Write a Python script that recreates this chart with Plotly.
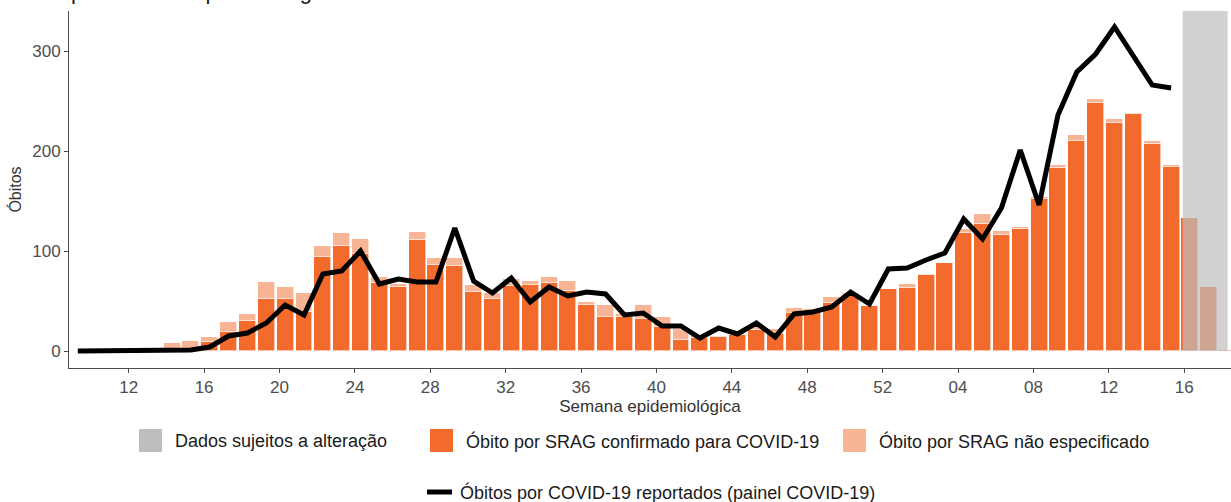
import plotly.graph_objects as go

# semanas epidemiológicas: 2020 (09-52) e 2021 (01-18)
semanas = list(range(9, 53)) + list(range(1, 19))

# óbitos por SRAG confirmados para COVID-19
confirmado = [0, 0, 0, 0, 0, 1, 2, 9, 19, 30, 52, 52, 39, 94, 105, 97, 68, 64, 111, 86,
              85, 59, 52, 65, 66, 68, 60, 46, 34, 34, 32, 24, 11, 13, 14, 16, 21, 17, 38, 40,
              48, 56, 45, 62,
              63, 76, 88, 118, 127, 116, 122, 152, 183, 210, 248, 228, 237, 207, 184, 133, 64, 1]

# óbitos por SRAG não especificado (parcela acima do confirmado)
nao_especificado = [0, 0, 0, 0, 1, 7, 8, 5, 10, 7, 17, 12, 19, 11, 13, 15, 6, 3, 8, 7,
                    8, 7, 6, 7, 4, 6, 10, 3, 12, 3, 14, 10, 11, 3, 1, 1, 4, 5, 5, 2,
                    6, 2, 0, 0,
                    4, 1, 0, 4, 10, 4, 2, 2, 3, 6, 4, 4, 1, 3, 2, 0, 0, 0]

# óbitos por COVID-19 reportados no painel (até a semana 15 de 2021)
painel = [0, 0, 0, 0, 1, 1, 1, 4, 15, 18, 28, 46, 36, 77, 80, 100, 67, 72, 69, 69,
          123, 70, 58, 73, 49, 64, 55, 59, 57, 36, 38, 25, 25, 13, 23, 17, 28, 14, 37, 39,
          44, 59, 47, 82,
          83, 91, 98, 132, 112, 143, 201, 146, 236, 279, 297, 324, 294, 266, 263]

n = len(semanas)
xpos = [i + 0.3 for i in range(n)]
tick_idx = list(range(3, n, 4))
tick_txt = [f"{semanas[i]:02d}" for i in tick_idx]

FONTE = "Liberation Sans, Arial, sans-serif"
LARANJA = "#F36B2C"
SALMAO = "#F8B596"
CINZA = "#BEBEBE"

W, H = 1231, 502
ML, MR, MT, MB = 69, 0, 11, 134
PW, PH = W - ML - MR, H - MT - MB


def px(x):
    return (x - ML) / PW


def py(y):
    return (H - MB - y) / PH


fig = go.Figure()
fig.add_trace(go.Bar(x=xpos, y=confirmado, width=0.9, marker=dict(color=LARANJA, line=dict(color="white", width=0.6)),
                     showlegend=False, hoverinfo="y"))
fig.add_trace(go.Bar(x=xpos, y=nao_especificado, width=0.9, marker=dict(color=SALMAO, line=dict(color="white", width=0.6)),
                     showlegend=False, hoverinfo="y"))
fig.add_trace(go.Scatter(x=xpos[:len(painel)], y=painel, mode="lines", line=dict(color="black", width=5),
                         showlegend=False, hoverinfo="y"))

# área de dados sujeitos a alteração
i16 = n - 3
fig.add_shape(type="rect", xref="x", yref="y", x0=xpos[i16] - 0.38, x1=xpos[n - 1], y0=0, y1=340,
              fillcolor=CINZA, opacity=0.7, line_width=0, layer="above")

# legenda manual
itens = [(139, CINZA, "Dados sujeitos a alteração"),
         (430, LARANJA, "Óbito por SRAG confirmado para COVID-19"),
         (843, SALMAO, "Óbito por SRAG não especificado")]
for x0, cor, txt in itens:
    fig.add_shape(type="rect", xref="paper", yref="paper", x0=px(x0), x1=px(x0 + 23), y0=py(452), y1=py(429),
                  fillcolor=cor, line_width=0)
    fig.add_annotation(xref="paper", yref="paper", x=px(x0 + 34), y=py(441), text=txt, showarrow=False,
                       xanchor="left", yanchor="middle", font=dict(size=18, color="#1a1a1a", family=FONTE))
fig.add_shape(type="line", xref="paper", yref="paper", x0=px(427), x1=px(452), y0=py(492), y1=py(492),
              line=dict(color="black", width=5))
fig.add_annotation(xref="paper", yref="paper", x=px(458), y=py(492),
                   text="Óbitos por COVID-19 reportados (painel COVID-19)", showarrow=False,
                   xanchor="left", yanchor="middle", font=dict(size=18, color="#1a1a1a", family=FONTE))

# título cortado no topo
fig.add_annotation(xref="paper", yref="paper", x=px(69), y=py(-8), text="por semana epidemiológica",
                   showarrow=False, xanchor="left", yanchor="middle",
                   font=dict(size=22, color="#1a1a1a", family=FONTE))

fig.update_layout(
    width=W, height=H,
    margin=dict(l=ML, r=MR, t=MT, b=MB),
    barmode="stack", bargap=0,
    plot_bgcolor="white", paper_bgcolor="white",
    font=dict(family=FONTE, color="#4D4D4D"),
    showlegend=False,
)
fig.update_xaxes(range=[-0.167, 61.48], tickmode="array", tickvals=tick_idx, ticktext=tick_txt,
                 showgrid=False, zeroline=False, showline=True, linecolor="#4D4D4D", linewidth=1,
                 ticks="outside", ticklen=4, tickcolor="#4D4D4D", tickfont=dict(size=17, color="#4D4D4D"),
                 automargin=False,
                 title=dict(text="Semana epidemiológica", font=dict(size=17, color="#333333"), standoff=2))
fig.update_yaxes(range=[-17, 340], tickvals=[0, 100, 200, 300], showgrid=False, zeroline=False,
                 showline=True, linecolor="#4D4D4D", linewidth=1, ticks="outside", ticklen=4,
                 tickcolor="#4D4D4D", tickfont=dict(size=17, color="#4D4D4D"), automargin=False,
                 title=dict(text="Óbitos", font=dict(size=16, color="#333333"), standoff=6))

# sem margem da página, para a figura ocupar a janela inteira
fig.write_html("out.html", config={"displayModeBar": False},
               post_script="document.body.style.margin = '0';")
